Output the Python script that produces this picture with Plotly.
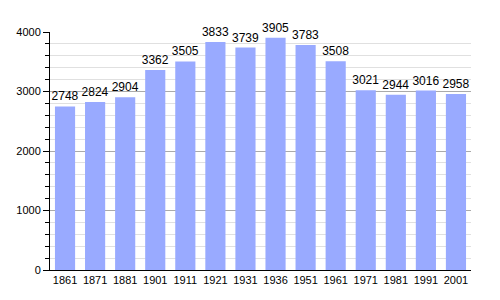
import plotly.graph_objects as go

years = ["1861", "1871", "1881", "1901", "1911", "1921", "1931", "1936", "1951", "1961", "1971", "1981", "1991", "2001"]
population = [2748, 2824, 2904, 3362, 3505, 3833, 3739, 3905, 3783, 3508, 3021, 2944, 3016, 2958]

fig = go.Figure(go.Bar(
    x=years, y=population,
    marker=dict(color="#99aaff", line=dict(width=0)),
    text=[str(v) for v in population], textposition="outside",
    textfont=dict(family="Liberation Sans, Arial", size=12, color="black"),
    cliponaxis=False, constraintext="none",
))
fig.update_layout(
    width=500, height=300,
    margin=dict(l=50, r=29, t=32, b=30),
    paper_bgcolor="white", plot_bgcolor="white",
    bargap=0.33, showlegend=False,
    font=dict(family="Liberation Sans, Arial", size=11, color="black"),
)
fig.update_yaxes(
    range=[0, 4000], tickvals=[0, 1000, 2000, 3000, 4000],
    showline=True, linecolor="black", linewidth=1,
    ticks="outside", ticklen=6, tickcolor="black",
    showgrid=True, gridcolor="#aaaaaa", gridwidth=1,
    minor=dict(dtick=200, showgrid=True, gridcolor="#e0e0e0", ticks="outside", ticklen=4, tickcolor="black"),
    zeroline=False,
)
fig.update_xaxes(
    showline=True, linecolor="black", linewidth=1, ticks="",
    tickfont=dict(size=11),
)
fig.write_html("out.html")
